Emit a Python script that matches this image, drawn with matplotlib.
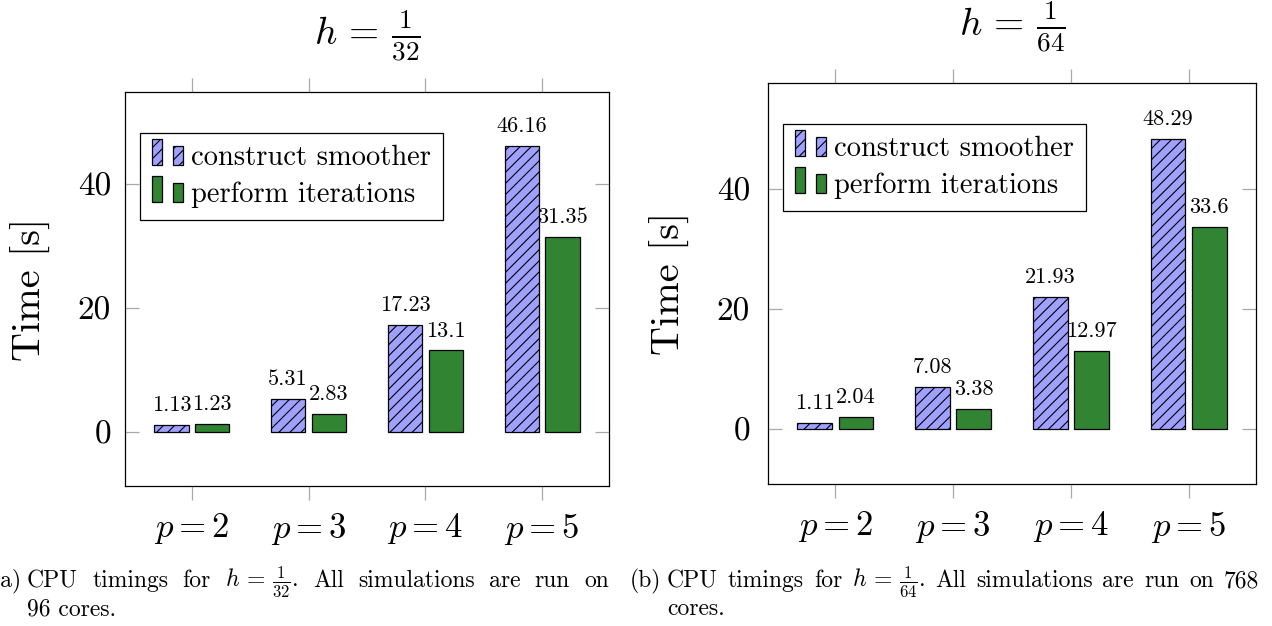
import numpy as np
import matplotlib
matplotlib.use("Agg")
import matplotlib.pyplot as plt
from matplotlib.patches import Rectangle
from matplotlib.legend_handler import HandlerBase

plt.rcParams['font.family'] = 'serif'
plt.rcParams['font.serif'] = ['cmr10']
plt.rcParams['mathtext.fontset'] = 'cm'
plt.rcParams['axes.formatter.use_mathtext'] = True
plt.rcParams['axes.unicode_minus'] = False
plt.rcParams['hatch.linewidth'] = 0.8

# ---------------- data ----------------
categories = ['$p=2$', '$p=3$', '$p=4$', '$p=5$']
series_names = ['construct smoother', 'perform iterations']
smoother_h32 = [1.13, 5.31, 17.23, 46.16]
iterations_h32 = [1.23, 2.83, 13.1, 31.35]
smoother_h64 = [1.11, 7.08, 21.93, 48.29]
iterations_h64 = [2.04, 3.38, 12.97, 33.6]
titles = [r'$h\,=\,\frac{1}{32}$', r'$h\,=\,\frac{1}{64}$']
yticks = [0, 20, 40]

BLUE = '#a0a0ff'
GREEN = '#318431'
TICKC = '#a8a8a8'

W, H = 1272, 626
fig = plt.figure(figsize=(W / 100, H / 100), dpi=100)


def px_rect(l, t, r, b):
    return [l / W, 1 - b / H, (r - l) / W, (b - t) / H]


class TwoBarHandler(HandlerBase):
    def create_artists(self, legend, orig_handle, xdescent, ydescent,
                       width, height, fontsize, trans):
        bw = width * 0.33
        arts = []
        for x0, hf in ((-xdescent, 1.3), (-xdescent + width - bw, 0.95)):
            r = Rectangle((x0, -ydescent), bw, height * hf,
                          facecolor=orig_handle.get_facecolor(),
                          edgecolor='black', linewidth=0.9,
                          hatch=orig_handle.get_hatch(), transform=trans)
            arts.append(r)
        return arts


def draw_panel(ax, smoother, iterations, ylim, title, title_y, ytick_pad):
    x = np.arange(len(categories))
    bw, off = 0.294, 0.175
    b1 = ax.bar(x - off, smoother, width=bw, color=BLUE, edgecolor='black',
                hatch='///', linewidth=0.9, zorder=2)
    b2 = ax.bar(x + off, iterations, width=bw, color=GREEN, edgecolor='black',
                linewidth=0.9, zorder=2)
    for bars, vals in ((b1, smoother), (b2, iterations)):
        for rect, v in zip(bars.patches, vals):
            ax.annotate(f'{v:g}', (rect.get_x() + rect.get_width() / 2, v),
                        xytext=(0, 10), textcoords='offset points',
                        ha='center', va='baseline', fontsize=16)
    ax.set_xlim(-0.572, 3.572)
    ax.set_ylim(*ylim)
    ax.set_xticks(x, categories)
    ax.set_yticks(yticks, [str(t) for t in yticks])
    ax.tick_params(axis='x', direction='out', top=True, bottom=True,
                   labeltop=False, length=10, width=0.9, color=TICKC,
                   labelsize=25, pad=8)
    ax.tick_params(axis='y', direction='in', left=True, right=True,
                   length=10, width=0.9, color=TICKC, labelsize=24,
                   pad=ytick_pad)
    for s in ax.spines.values():
        s.set_linewidth(0.9)
        s.set_color('black')
    p1 = Rectangle((0, 0), 1, 1, facecolor=BLUE, hatch='///')
    p2 = Rectangle((0, 0), 1, 1, facecolor=GREEN)
    leg = ax.legend([p1, p2], series_names, loc='upper left',
                    bbox_to_anchor=(0.031, 0.897), borderaxespad=0,
                    handler_map={Rectangle: TwoBarHandler()},
                    fontsize=20.5, handlelength=1.1, handleheight=0.7,
                    handletextpad=0.28, borderpad=0.42, labelspacing=0.36,
                    fancybox=False, framealpha=1, edgecolor='black')
    leg.get_frame().set_linewidth(0.9)
    bb = ax.get_position()
    fig.text((bb.x0 + bb.x1) / 2, 1 - title_y / H, title, ha='center',
             va='center', fontsize=28)


ax1 = fig.add_axes(px_rect(125, 92, 609, 486))
ax2 = fig.add_axes(px_rect(768, 82.7, 1256, 484.3))
draw_panel(ax1, smoother_h32, iterations_h32, (-8.76, 54.8), titles[0], 36, 10)
draw_panel(ax2, smoother_h64, iterations_h64, (-9.15, 57.6), titles[1], 27, 13)

fig.text(31 / W, 1 - 289 / H, 'Time [s]', rotation=90, ha='center',
         va='center', fontsize=29)
fig.text(670 / W, 1 - 283 / H, 'Time [s]', rotation=90, ha='center',
         va='center', fontsize=29)

# captions
CAP = 17
renderer = fig.canvas.get_renderer()


def justified(words, x0, x1, ybase):
    ts = [fig.text(0, 1 - ybase / H, w, ha='left', va='baseline', fontsize=CAP)
          for w in words]
    widths = [t.get_window_extent(renderer).width for t in ts]
    gap = (x1 - x0 - sum(widths)) / (len(ts) - 1)
    xc = x0
    for t, w in zip(ts, widths):
        t.set_x(xc / W)
        xc += w + gap


cap_a = ['CPU', 'timings', 'for', r'$h\,=\,\frac{1}{32}$.', 'All',
         'simulations', 'are', 'run', 'on']
cap_b = ['CPU', 'timings', 'for', r'$h\,=\,\frac{1}{64}$.', 'All',
         'simulations', 'are', 'run', 'on', '768']
fig.text(22 / W, 1 - 587 / H, '(a)', ha='right', va='baseline', fontsize=CAP)
justified(cap_a, 27, 609, 587)
fig.text(27 / W, 1 - 615 / H, '96 cores.', ha='left', va='baseline', fontsize=CAP)
fig.text(661 / W, 1 - 587 / H, '(b)', ha='right', va='baseline', fontsize=CAP)
justified(cap_b, 667, 1259, 587)
fig.text(667 / W, 1 - 615 / H, 'cores.', ha='left', va='baseline', fontsize=CAP)

fig.savefig('out.png', dpi=100)
